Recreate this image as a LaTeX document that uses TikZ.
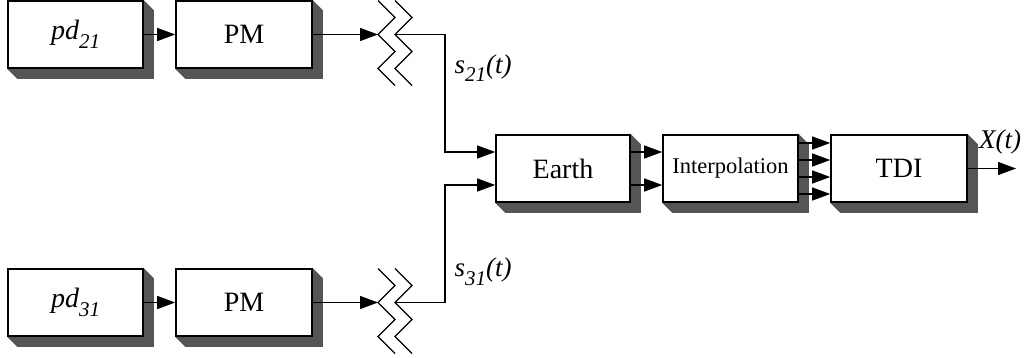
\documentclass[tikz,border=0pt]{standalone}
\usepackage{fontspec}
\setmainfont{Liberation Serif}
\usetikzlibrary{arrows.meta,calc,backgrounds}
\definecolor{shadowc}{RGB}{85,85,85}
\newcommand\blkshadow[1]{\fill[shadowc] (#1.north east) -- ($(#1.north east)+(10,10)$) -- ($(#1.south east)+(10,10)$) -- ($(#1.south west)+(10,10)$) -- (#1.south west) -- cycle;}
\newcommand\zigzag[1]{%
  \draw[zz,shift={(#1)}] (0,-34) -- (17,-17) -- (0,0) -- (17,17) -- (0,34) -- (17,51);
  \draw[zz,shift={(#1)}] (17,-34) -- (34,-17) -- (17,0) -- (34,17) -- (17,34) -- (34,51);}
\newcommand\lowsub[1]{\raisebox{-0.32em}{\fontsize{21}{24}\selectfont #1}}
\begin{document}
\begin{tikzpicture}[x=1pt,y=-1pt,
  blk/.style={draw,line width=1.6pt,fill=white,inner sep=0pt,minimum height=67pt,font=\fontsize{28}{32}\selectfont},
  conn/.style={line width=1.3pt,-{Triangle[length=18pt,width=13pt]}},
  zz/.style={line width=1.3pt},
  lbl/.style={font=\fontsize{27}{32}\selectfont\itshape,inner sep=0pt}]
\useasboundingbox (0,0) rectangle (1025,358);
% blocks
\node[blk,minimum width=135pt] (pd21) at (75.5,34.5) {\textit{pd\lowsub{21}}};
\node[blk,minimum width=136pt] (pm1) at (244,34.5) {PM};
\node[blk,minimum width=135pt] (pd31) at (75.5,302.5) {\textit{pd\lowsub{31}}};
\node[blk,minimum width=136pt] (pm2) at (244,302.5) {PM};
\node[blk,minimum width=134pt] (earth) at (563,168.5) {Earth};
\node[blk,minimum width=135pt,font=\fontsize{22.5}{26}\selectfont] (interp) at (730.5,168.5) {Interpolation};
\node[blk,minimum width=136pt] (tdi) at (899,168.5) {TDI};
\begin{scope}[on background layer]
  \blkshadow{pd21}\blkshadow{pm1}\blkshadow{pd31}\blkshadow{pm2}
  \blkshadow{earth}\blkshadow{interp}\blkshadow{tdi}
\end{scope}
% coordinates
\coordinate (z1) at (378,34.5);
\coordinate (z1r) at (395,34.5);
\coordinate (k1) at (445,34.5);
\coordinate (z2) at (378,302.5);
\coordinate (z2r) at (395,302.5);
\coordinate (k2) at (445,302.5);
\coordinate (e1) at ($(earth.west)+(0,-16.5)$);
\coordinate (e2) at ($(earth.west)+(0,16.5)$);
\coordinate (xout) at (1016,168.5);
% zigzags
\zigzag{z1}
\zigzag{z2}
% connectors
\draw[conn] (pd21) -- (pm1);
\draw[conn] (pd31) -- (pm2);
\draw[conn] (pm1) -- (z1);
\draw[conn] (pm2) -- (z2);
\draw[conn] (z1r) -- (k1) |- (e1);
\draw[conn] (z2r) -- (k2) |- (e2);
\draw[conn] ($(earth.east)+(0,-16.5)$) -- ($(interp.west)+(0,-16.5)$);
\draw[conn] ($(earth.east)+(0,16.5)$) -- ($(interp.west)+(0,16.5)$);
\foreach \o in {-25.5,-8.5,8.5,25.5}
  \draw[conn] ($(interp.east)+(0,\o)$) -- ($(tdi.west)+(0,\o)$);
\draw[conn] (tdi) -- (xout);
% labels
\node[lbl] (s21) at (483,68) {s\lowsub{21}(t)};
\node[lbl] (s31) at (483,272) {s\lowsub{31}(t)};
\node[lbl] (xt) at (1000,142) {X(t)};
\end{tikzpicture}
\end{document}
